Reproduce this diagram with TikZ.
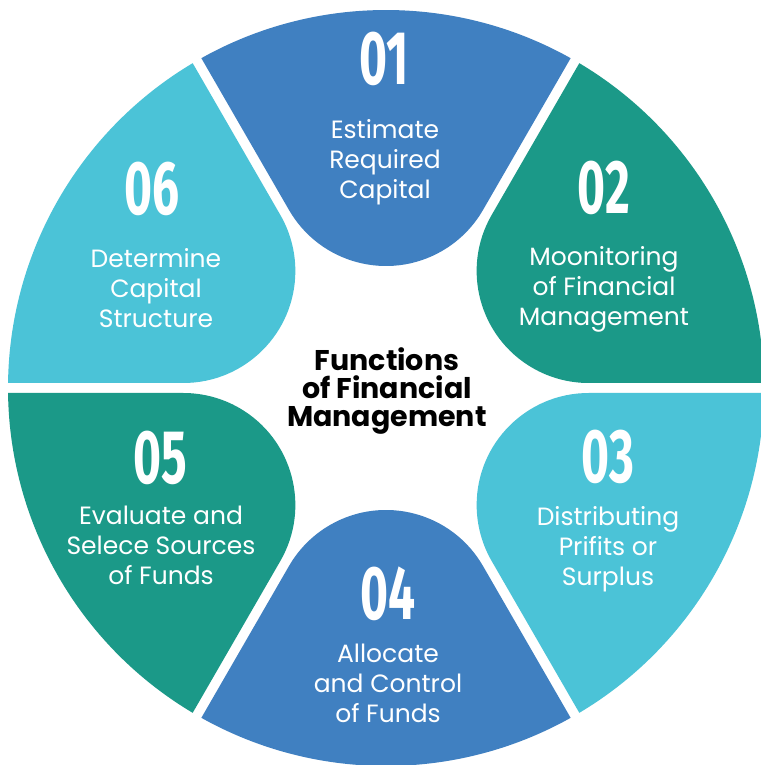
\documentclass[tikz,border=0pt]{standalone}
\usepackage{fontspec}
\usepackage{tikz}

\setmainfont{Poppins}
\newfontfamily\numfont[FakeStretch=0.63]{Fira Sans}

\definecolor{bleu}{RGB}{64,128,193}
\definecolor{sarcelle}{RGB}{27,153,136}
\definecolor{cyanclair}{RGB}{75,195,215}

\tikzset{
	numero/.style={text=white, inner sep=0pt, font=\numfont\bfseries\fontsize{76}{76}\selectfont},
	texte/.style={text=white, inner sep=0pt, align=center, font=\fontsize{25}{30}\selectfont},
	titre/.style={text=black, inner sep=0pt, align=center, font=\bfseries\fontsize{28.5}{28}\selectfont}
}

\begin{document}
\begin{tikzpicture}[x=1pt, y=1pt]
		% fond
		\path[use as bounding box, fill=white] (-386, -377) rectangle (374, 388);

		% secteur 01
		\fill[bleu] (60.758:378) arc[start angle=60.758, end angle=119.242, radius=378]
			-- ([shift={(90:234)}]210:112) arc[start angle=210, end angle=330, radius=112] -- cycle;

		% secteur 02
		\fill[sarcelle] (0.758:378) arc[start angle=0.758, end angle=59.242, radius=378]
			-- ([shift={(30:234)}]150:112) arc[start angle=150, end angle=270, radius=112] -- cycle;

		% secteur 03
		\fill[cyanclair] (-59.242:378) arc[start angle=-59.242, end angle=-0.758, radius=378]
			-- ([shift={(-30:234)}]90:112) arc[start angle=90, end angle=210, radius=112] -- cycle;

		% secteur 04
		\fill[bleu] (-119.242:378) arc[start angle=-119.242, end angle=-60.758, radius=378]
			-- ([shift={(-90:234)}]30:112) arc[start angle=30, end angle=150, radius=112] -- cycle;

		% secteur 05
		\fill[sarcelle] (-179.242:378) arc[start angle=-179.242, end angle=-120.758, radius=378]
			-- ([shift={(-150:234)}]-30:112) arc[start angle=-30, end angle=90, radius=112] -- cycle;

		% secteur 06
		\fill[cyanclair] (120.758:378) arc[start angle=120.758, end angle=179.242, radius=378]
			-- ([shift={(150:234)}]270:112) arc[start angle=270, end angle=390, radius=112] -- cycle;

		% numeros
		\node[numero] (num01) at (-2, 329) {01};
		\node[numero] (num02) at (218, 200) {02};
		\node[numero] (num03) at (222, -69) {03};
		\node[numero] (num04) at (2, -206) {04};
		\node[numero] (num05) at (-226, -70) {05};
		\node[numero] (num06) at (-234, 199) {06};

		% textes
		\node[texte] (txt01) at (-1, 226) {Estimate\\Required\\Capital};
		\node[texte] (txt02) at (218, 99) {Moonitoring\\of Financial\\Management};
		\node[texte] (txt03) at (222, -161) {Distributing\\Prifits or\\Surplus};
		\node[texte] (txt04) at (2, -295) {Allocate\\and Control\\of Funds};
		\node[texte] (txt05) at (-225, -157) {Evaluate and\\Selece Sources\\of Funds};
		\node[texte] (txt06) at (-230, 100) {Determine\\Capital\\Structure};

		% titre central
		\node[titre] (titre) at (1, -3) {Functions\\of Financial\\Management};
\end{tikzpicture}
\end{document}
